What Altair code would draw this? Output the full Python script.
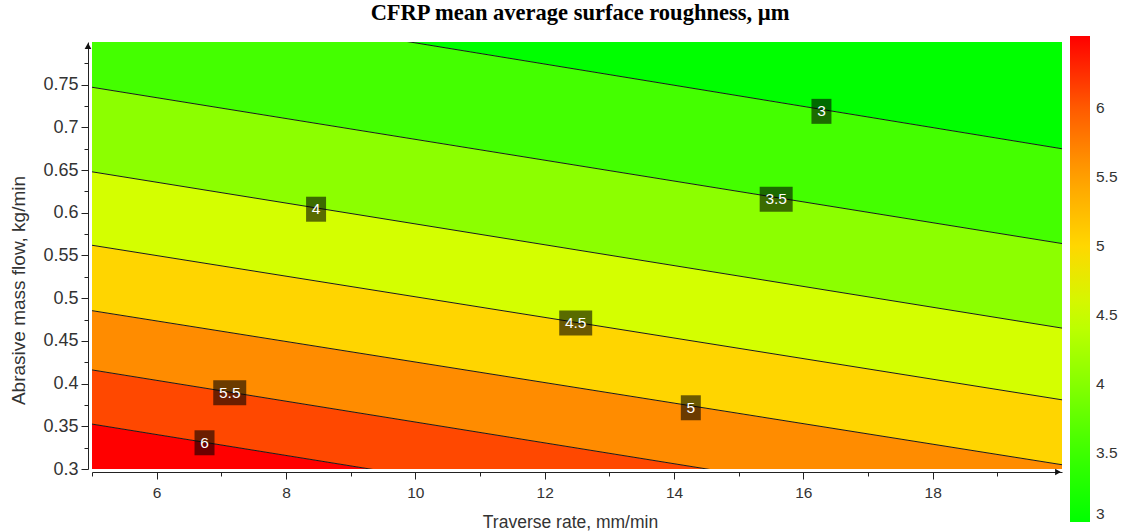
import altair as alt
import pandas as pd

# ---- axes ranges ----
x_range = [5, 20]
y_range = [0.3, 0.8]

# ---- contour lines (straight), y value where each line meets x=5 and x=20 ----
levels = [6.0, 5.5, 5.0, 4.5, 4.0, 3.5, 3.0]
line_y_at_x5 = [0.3526, 0.416, 0.4854, 0.562, 0.648, 0.747, 0.861]
line_y_at_x20 = [0.169, 0.233, 0.305, 0.381, 0.465, 0.564, 0.675]

# filled band colours, from the bottom band (>6) to the top band (<3)
band_colors = ["#ff0000", "#ff4800", "#ff8c00", "#ffd500",
               "#d4ff00", "#8cff00", "#44ff00", "#00ff00"]

# contour labels
label_text = ["3", "3.5", "4", "4.5", "5", "5.5", "6"]
label_x = [16.28, 15.58, 8.465, 12.48, 14.26, 7.13, 6.74]
label_y = [0.7188, 0.6159, 0.6042, 0.4711, 0.3717, 0.3892, 0.3307]

# colour bar
cb_values = [3.0, 3.5, 4.0, 4.5, 5.0, 5.5, 6.0, 6.52]
cb_colors = ["#00ff00", "#3cff00", "#86ff00", "#caff00",
             "#ffd700", "#ffa000", "#ff5a00", "#ff0000"]
cb_ticks = [3.0, 3.5, 4.0, 4.5, 5.0, 5.5, 6.0]

# axis ticks
x_ticks = [5, 6, 7, 8, 9, 10, 11, 12, 13, 14, 15, 16, 17, 18, 19]
y_ticks = [0.3, 0.325, 0.35, 0.375, 0.4, 0.425, 0.45, 0.475, 0.5, 0.525,
           0.55, 0.575, 0.6, 0.625, 0.65, 0.675, 0.7, 0.725, 0.75, 0.775]

FONT = "Liberation Sans"
TXT = "#333333"

# ---- build tables ----
lo_left = [y_range[0]] + line_y_at_x5
hi_left = line_y_at_x5 + [y_range[1]]
lo_right = [y_range[0]] + line_y_at_x20
hi_right = line_y_at_x20 + [y_range[1]]
band_rows = []
for i, c in enumerate(band_colors):
    band_rows.append({"x": x_range[0], "ylo": lo_left[i], "yhi": hi_left[i], "band": i, "color": c})
    band_rows.append({"x": x_range[1], "ylo": lo_right[i], "yhi": hi_right[i], "band": i, "color": c})
bands = pd.DataFrame(band_rows)

line_rows = []
for lv, a, b in zip(levels, line_y_at_x5, line_y_at_x20):
    line_rows.append({"x": x_range[0], "y": a, "level": lv})
    line_rows.append({"x": x_range[1], "y": b, "level": lv})
lines = pd.DataFrame(line_rows)

labels = pd.DataFrame({"x": label_x, "y": label_y, "label": label_text})
cb_df = pd.DataFrame({"v": cb_values})

xs = alt.Scale(domain=x_range, nice=False, zero=False)
ys = alt.Scale(domain=y_range, nice=False, zero=False)

x_axis = alt.Axis(
    values=x_ticks, format="d",
    labelExpr="datum.value % 2 == 0 ? datum.label : ''",
    tickSize={"condition": {"test": "datum.value % 2 == 0", "value": 7}, "value": 4},
    offset=3, grid=False, domainColor="#222222", tickColor="#222222",
    labelColor=TXT, labelFont=FONT, labelFontSize=15.5, labelPadding=6,
    titleFont=FONT, titleFontSize=17.5, titleFontWeight="normal", titleColor=TXT,
    titlePadding=13, titleX=478,
)
y_axis = alt.Axis(
    values=y_ticks, format=".2~f",
    labelExpr="round(datum.value * 1000) % 50 == 0 ? datum.label : ''",
    tickSize={"condition": {"test": "round(datum.value * 1000) % 50 == 0", "value": 7}, "value": 4},
    offset=4, grid=False, domainColor="#222222", tickColor="#222222",
    labelColor=TXT, labelFont=FONT, labelFontSize=18, labelPadding=3,
    titleFont=FONT, titleFontSize=19, titleFontWeight="normal", titleColor=TXT,
    titlePadding=14, titleY=248,
)
X_TITLE = "Traverse rate, mm/min"
Y_TITLE = "Abrasive mass flow, kg/min"


def X(f):
    return alt.X(f, type="quantitative", scale=xs, axis=x_axis, title=X_TITLE)


def Y(f):
    return alt.Y(f, type="quantitative", scale=ys, axis=y_axis, title=Y_TITLE)


band_layer = alt.Chart(bands).mark_area(clip=True, interpolate="linear").encode(
    x=X("x"), y=Y("ylo"), y2="yhi",
    fill=alt.Fill("color:N", scale=None), detail="band:N",
)

line_layer = alt.Chart(lines).mark_line(clip=True, color="#1a1a1a", strokeWidth=1).encode(
    x=X("x"), y=Y("y"), detail="level:N",
)

box_short = alt.Chart(labels).transform_filter("length(datum.label) == 1").mark_rect(
    width=20, height=25, color="#000000", opacity=0.58
).encode(x=X("x"), y=Y("y"))
box_long = alt.Chart(labels).transform_filter("length(datum.label) > 1").mark_rect(
    width=33, height=25, color="#000000", opacity=0.58
).encode(x=X("x"), y=Y("y"))

text_layer = alt.Chart(labels).mark_text(
    color="#ffffff", font=FONT, fontSize=15.5, align="center", baseline="middle"
).encode(x=X("x"), y=Y("y"), text="label:N")

arrow_df_y = pd.DataFrame({"x": [x_range[0]], "y": [y_range[1]]})
arrow_df_x = pd.DataFrame({"x": [x_range[1]], "y": [y_range[0]]})
arrow_y = alt.Chart(arrow_df_y).mark_point(
    shape="triangle-up", filled=True, size=45, color="#111111", opacity=1,
    xOffset=-4, yOffset=4
).encode(x=X("x"), y=Y("y"))
arrow_x = alt.Chart(arrow_df_x).mark_point(
    shape="triangle-right", filled=True, size=45, color="#111111", opacity=1,
    xOffset=-4, yOffset=3
).encode(x=X("x"), y=Y("y"))

legend_layer = alt.Chart(cb_df).mark_point(opacity=0).encode(
    color=alt.Color(
        "v:Q",
        scale=alt.Scale(domain=cb_values, range=cb_colors, interpolate="rgb"),
        legend=alt.Legend(
            orient="none", legendX=978, legendY=-6, direction="vertical",
            gradientLength=486, gradientThickness=20, gradientStrokeWidth=0,
            values=cb_ticks, format=".1~f", title=None, labelOverlap=False,
            labelFont=FONT, labelFontSize=15.5, labelColor=TXT, labelOffset=6,
        ),
    )
)

chart = alt.layer(
    band_layer, line_layer, box_short, box_long, text_layer, arrow_y, arrow_x, legend_layer
).properties(
    width=970, height=427,
    title=alt.TitleParams(
        "CFRP mean average surface roughness, µm",
        font="Liberation Serif", fontSize=22.5, fontWeight="bold", color="#000000",
        anchor="middle", offset=12, dx=3,
    ),
    autosize=alt.AutoSizeParams(type="none"),
    padding={"left": 92, "top": 42, "right": 64, "bottom": 62},
).configure_view(stroke=None)

chart.save("out.html", embed_options={"renderer": "svg", "actions": False})
